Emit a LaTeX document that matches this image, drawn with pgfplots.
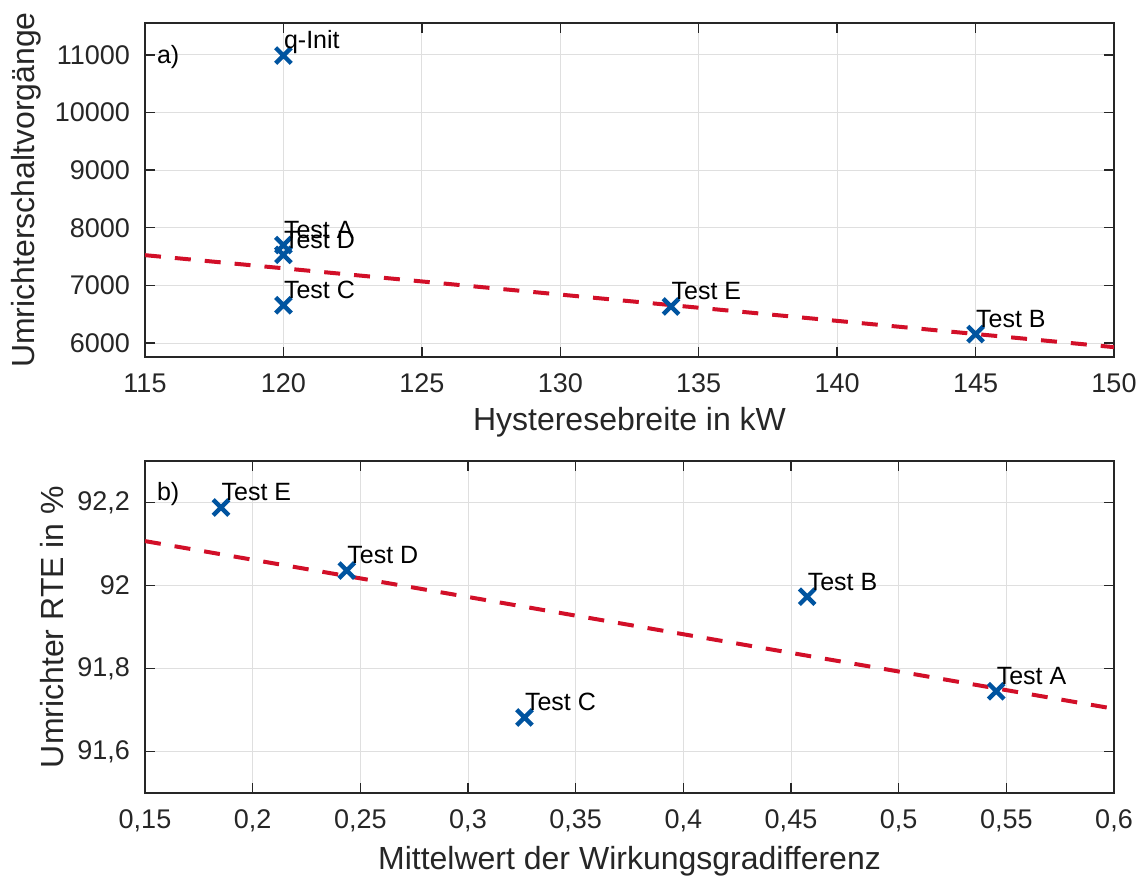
\documentclass[border=0pt]{standalone}
\usepackage{pgfplots}
\pgfplotsset{compat=1.18}
\usepackage{pgfplotstable}
\usepackage{fontspec}
\setmainfont{Liberation Sans}
\definecolor{mblue}{RGB}{0,84,160}
\definecolor{mred}{RGB}{210,15,40}
\definecolor{axgray}{RGB}{38,38,38}

\pgfplotstableread{
x y label
120 10990 q-Init
120 7700 {Test A}
145 6155 {Test B}
120 6655 {Test C}
120 7530 {Test D}
134 6635 {Test E}
}\topdata
\pgfplotstableread{
x y
115 7525
150 5928
}\topfit
\pgfplotstableread{
x y label
0.5453 91.745 {Test A}
0.4575 91.973 {Test B}
0.3262 91.682 {Test C}
0.2437 92.036 {Test D}
0.1853 92.188 {Test E}
}\botdata
\pgfplotstableread{
x y
0.15 92.107
0.60 91.703
}\botfit

\pgfplotsset{
  myaxis/.style={
    scale only axis,
    width=484.5pt,
    axis line style={axgray, line width=0.7pt},
    tick style={axgray, line width=0.7pt},
    major tick length=5pt,
    tick align=inside,
    tick pos=both,
    grid=major,
    major grid style={gray!25, line width=0.5pt},
    ticklabel style={font=\fontsize{13.5}{16}\selectfont, text=axgray},
    label style={font=\fontsize{16}{19}\selectfont, text=axgray},
    /pgf/number format/assume math mode=true,
    /pgf/number format/use comma,
    /pgf/number format/set thousands separator={},
    scaled ticks=false,
    yticklabel style={xshift=-4pt},
    xticklabel style={yshift=-5pt},
  },
  pts/.style={only marks, mark=x, mark size=5.5pt, mblue,
    mark options={line width=2.2pt},
    nodes near coords, point meta=explicit symbolic,
    nodes near coords style={anchor=base west, inner sep=0pt, xshift=-0.8pt, yshift=3.3pt,
      text=black, font=\fontsize{12.5}{15}\selectfont}},
  fit/.style={mred, line width=2pt, dash pattern=on 8pt off 7pt, no marks},
}

\begin{document}
\begin{tikzpicture}
\useasboundingbox (-72.5pt,11.5pt) rectangle (499.5pt,-430.5pt);
\begin{axis}[myaxis,
  at={(0,0)}, anchor=north west,
  height=167pt,
  xmin=115, xmax=150, ymin=5757, ymax=11555,
  xtick={115,120,...,150},
  ytick={6000,7000,8000,9000,10000,11000},
  xlabel={Hysteresebreite in kW},
  ylabel={Umrichterschaltvorgänge},
  clip=false,
]
\addplot[fit] table[x=x,y=y] {\topfit};
\addplot[pts] table[x=x,y=y,meta=label] {\topdata};
\node[anchor=base west, inner sep=0pt, font=\fontsize{12.5}{15}\selectfont] at (rel axis cs:0.012,0.88) {a)};
\end{axis}
\begin{axis}[myaxis,
  at={(0,-219pt)}, anchor=north west,
  height=166pt,
  xmin=0.15, xmax=0.6, ymin=91.5, ymax=92.3,
  xtick={0.15,0.2,0.25,0.3,0.35,0.4,0.45,0.5,0.55,0.6},
  ytick={91.6,91.8,92,92.2},
  xticklabel={\pgfmathprintnumber[fixed,precision=2,use comma]{\tick}},
  yticklabel={\pgfmathprintnumber[fixed,precision=1,use comma]{\tick}},
  xlabel={Mittelwert der Wirkungsgradifferenz},
  ylabel={Umrichter RTE in \%},
  clip=false,
]
\addplot[fit] table[x=x,y=y] {\botfit};
\addplot[pts] table[x=x,y=y,meta=label] {\botdata};
\node[anchor=base west, inner sep=0pt, font=\fontsize{12.5}{15}\selectfont] at (rel axis cs:0.012,0.882) {b)};
\end{axis}
\end{tikzpicture}
\end{document}
